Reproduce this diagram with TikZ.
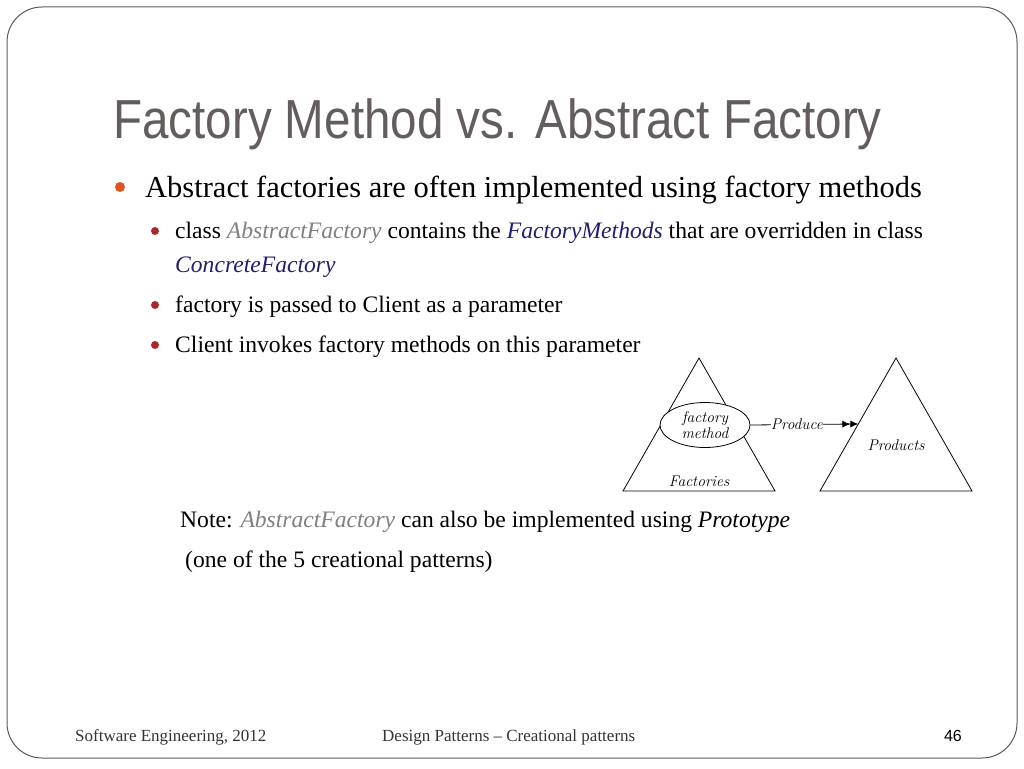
\documentclass[tikz,border=0pt]{standalone}
\usepackage{fontspec}
\newfontfamily\bodyfont[Ligatures=TeX]{Liberation Serif}
\newfontfamily\titlefont[FakeStretch=0.865]{Liberation Sans}
\newfontfamily\numfont{Liberation Sans}
\usetikzlibrary{arrows.meta,shapes.geometric,calc}
\definecolor{titlegray}{RGB}{99,93,93}
\definecolor{bulletorange}{RGB}{224,84,36}
\definecolor{bulletred}{RGB}{170,40,40}
\definecolor{namegray}{RGB}{128,128,128}
\definecolor{namenavy}{RGB}{32,32,110}
\definecolor{framegray}{RGB}{90,90,90}
\tikzset{
  body/.style={anchor=base west, inner sep=0pt, font=\bodyfont\fontsize{30.5}{36}\selectfont},
  sub/.style={anchor=base west, inner sep=0pt, font=\bodyfont\fontsize{23.6}{28}\selectfont},
  foot/.style={anchor=base west, inner sep=0pt, font=\bodyfont\fontsize{17}{20}\selectfont, text=black!80},
  bigdot/.style={circle, fill=bulletorange, inner sep=0pt, minimum size=10},
  smalldot/.style={circle, fill=bulletred, inner sep=0pt, minimum size=8},
  cmlabel/.style={font=\itshape\fontsize{15.5}{16}\selectfont, inner sep=1pt},
}
\begin{document}
\begin{tikzpicture}[x=1pt, y=-1pt]
  \useasboundingbox (0,0) rectangle (1024,768);
  \draw[framegray, line width=1, rounded corners=35] (7,7) rectangle (1017,758);
  % title and bullets
  \node[anchor=base west, inner sep=0pt, font=\titlefont\fontsize{55}{60}\selectfont, text=titlegray]
    (title) at (113,138) {Factory Method vs. Abstract Factory};
  \node[bigdot] (d1) at (120,187) {};
  \node[body] (b1) at (145,197) {Abstract factories are often implemented using factory methods};
  \node[smalldot] (d2) at (155,231) {};
  \node[sub] (s1) at (175,238) {class \textcolor{namegray}{\itshape AbstractFactory} contains the \textcolor{namenavy}{\itshape FactoryMethods} that are overridden in class};
  \node[sub] (s1b) at (175,272) {\textcolor{namenavy}{\itshape ConcreteFactory}};
  \node[smalldot] (d3) at (155,305) {};
  \node[sub] (s2) at (175,312) {factory is passed to Client as a parameter};
  \node[smalldot] (d4) at (155,345) {};
  \node[sub] (s3) at (175,352) {Client invokes factory methods on this parameter};
  % diagram
  \coordinate (fa) at (699,358);
  \coordinate (fl) at (623,491);
  \coordinate (fr) at (775,491);
  \coordinate (pa) at (896,358);
  \coordinate (pl) at (820,491);
  \coordinate (pr) at (972,491);
  \draw[line width=0.8] (fl) -- (fa) -- (fr) -- cycle;
  \draw[line width=0.8] (pl) -- (pa) -- (pr) -- cycle;
  \node[ellipse, draw, line width=0.8, fill=white, minimum width=90, minimum height=45,
    inner sep=0pt, align=center, cmlabel] (fm) at (705,425) {factory\\method};
  \node[cmlabel] (fac) at (699,481) {Factories};
  \node[cmlabel] (prod) at (896,445) {Products};
  \coordinate (hit) at ($(pa)!0.496!(pl)$);
  \draw[line width=0.8, -{Latex[length=8,width=7]Latex[length=8,width=7]}]
    (fm.east) -- node[cmlabel, fill=white, inner sep=0pt, pos=0.43] (prodlbl) {Produce} (hit);
  % note
  \node[sub] (n1) at (180,527) {Note: \textcolor{namegray}{\itshape AbstractFactory} can also be implemented using {\itshape Prototype}};
  \node[sub] (n2) at (185,567) {(one of the 5 creational patterns)};
  % footer
  \node[foot] (f1) at (75,741) {Software Engineering, 2012};
  \node[foot] (f2) at (382,741) {Design Patterns \textendash{} Creational patterns};
  \node[anchor=base east, inner sep=0pt, font=\numfont\fontsize{16}{18}\selectfont] (f3) at (962,741) {46};
\end{tikzpicture}
\end{document}
